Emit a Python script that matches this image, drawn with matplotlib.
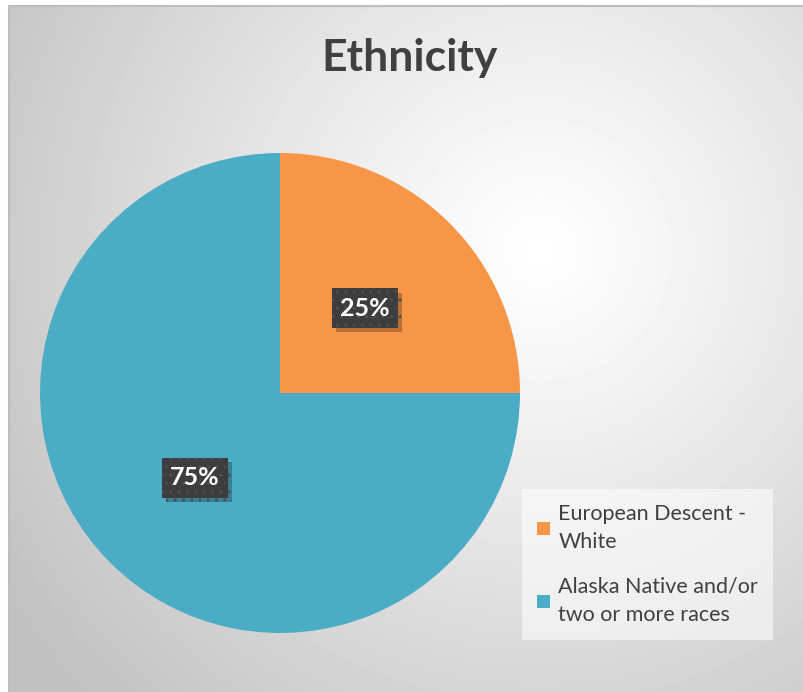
import numpy as np
import matplotlib.pyplot as plt
import matplotlib.patheffects as pe

categories = ['European Descent -\nWhite', 'Alaska Native and/or\ntwo or more races']
shares = [25, 75]
colors = ['#F79646', '#4BACC6']

W, H = 804, 692
fig = plt.figure(figsize=(W / 100, H / 100), dpi=100)
fig.patch.set_facecolor('white')
ax = fig.add_axes([0, 0, 1, 1])

# radial grey background like the office chart area
yy, xx = np.mgrid[6:H, 9:W]
d = np.hypot(xx - 540, yy - 250) / 650
shade = np.clip(1 - 0.25 * d ** 1.1, 0.75, 1)
ax.imshow(shade, cmap='gray', vmin=0, vmax=1, extent=(9, W, 0, H - 6),
          zorder=0, interpolation='bilinear', aspect='auto')
ax.plot([9, 9, W], [0, H - 6, H - 6], color='#bdbdbd', lw=1.5, zorder=1)

wedges, texts, autotexts = ax.pie(
    shares, colors=colors, startangle=90, counterclock=False,
    center=(280, H - 393), radius=240, autopct='%1.0f%%', pctdistance=0.5,
    wedgeprops=dict(linewidth=0),
    textprops=dict(color='white', fontsize=18, fontweight='bold', family='Lato'))

for t in autotexts:
    t.set_bbox(dict(boxstyle='square,pad=0.33', facecolor='#3d3d3d',
                    edgecolor='#4e4e4e', hatch='..', linewidth=0))
    t.get_bbox_patch().set_path_effects(
        [pe.withSimplePatchShadow(offset=(3, -3), shadow_rgbFace='#000000',
                                  alpha=0.25), pe.Normal()])

ax.text(410, H - 58, 'Ethnicity', ha='center', va='center', fontsize=32,
        fontweight='bold', color='#404040', family='Lato')

leg = ax.legend(wedges, categories, loc='lower right',
                bbox_to_anchor=(773, H - 640), bbox_transform=ax.transData,
                borderaxespad=0, frameon=True, fancybox=False, framealpha=0.55,
                facecolor='white', edgecolor='none',
                prop=dict(family='Lato', size=15.5),
                handlelength=0.6, handleheight=0.6, handletextpad=0.4,
                labelspacing=1.15, borderpad=0.7)
for txt in leg.get_texts():
    txt.set_color('#404040')
    txt.set_linespacing(1.5)

ax.set_xlim(0, W)
ax.set_ylim(0, H)
ax.axis('off')

fig.savefig('out.png', dpi=100, facecolor='white')
